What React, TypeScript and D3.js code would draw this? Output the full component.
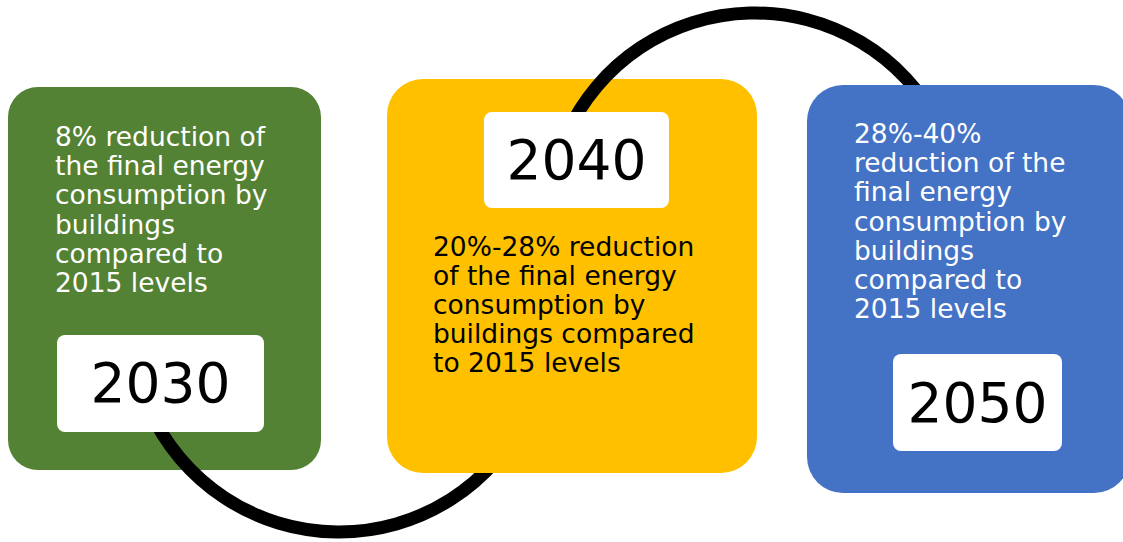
import React from "react";
import * as d3 from "d3";

// ---- content ----
const years = ["2030", "2040", "2050"];
const descriptions: string[][] = [
  ["8% reduction of", "the final energy", "consumption by", "buildings", "compared to", "2015 levels"],
  ["20%-28% reduction", "of the final energy", "consumption by", "buildings compared", "to 2015 levels"],
  ["28%-40%", "reduction of the", "final energy", "consumption by", "buildings", "compared to", "2015 levels"],
];
const boxColors = ["#548235", "#FFC000", "#4472C4"];
const textColors = ["#ffffff", "#000000", "#ffffff"];

// ---- layout ----
const W = 1123;
const H = 542;
const FONT = "'DejaVu Sans', Verdana, sans-serif";

const boxes = [
  { x: 8, y: 87, w: 313, h: 383, r: 30 },
  { x: 387, y: 79, w: 370, h: 394, r: 36 },
  { x: 807, y: 85, w: 323, h: 408, r: 36 },
];
const yearBoxes = [
  { x: 57, y: 335, w: 207, h: 97, r: 8, baseline: 402 },
  { x: 484, y: 112, w: 185, h: 96, r: 8, baseline: 179 },
  { x: 893, y: 354, w: 169, h: 97, r: 8, baseline: 422 },
];
const textBlocks = [
  { x: 55, y0: 146, dy: 29.2 },
  { x: 433, y0: 256, dy: 29 },
  { x: 854, y0: 143, dy: 29.2 },
];

// connector arcs (circle center, radius, angle span in d3 convention)
const arcs = [
  { cx: 339, cy: 324, r: 208, a0: 2.0, a1: 4.3 },
  { cx: 755, cy: 220, r: 207, a0: -1.15, a1: 1.1 },
];
const STROKE = 13;

const arcGen = d3.arc<any>();

function arcPath(a: typeof arcs[number]) {
  return (
    arcGen({
      innerRadius: a.r - STROKE / 2,
      outerRadius: a.r + STROKE / 2,
      startAngle: a.a0,
      endAngle: a.a1,
    }) || ""
  );
}

function Box({ i }: { i: number }) {
  const b = boxes[i];
  return <rect x={b.x} y={b.y} width={b.w} height={b.h} rx={b.r} ry={b.r} fill={boxColors[i]} />;
}

function Arc({ i }: { i: number }) {
  const a = arcs[i];
  return <path d={arcPath(a)} transform={`translate(${a.cx},${a.cy})`} fill="#000" />;
}

function Labels({ i }: { i: number }) {
  const yb = yearBoxes[i];
  const tb = textBlocks[i];
  return (
    <g>
      <rect x={yb.x} y={yb.y} width={yb.w} height={yb.h} rx={yb.r} ry={yb.r} fill="#fff" />
      <text
        x={yb.x + yb.w / 2}
        y={yb.baseline}
        textAnchor="middle"
        fontFamily={FONT}
        fontSize={55}
        fill="#000"
      >
        {years[i]}
      </text>
      <text fontFamily={FONT} fontSize={26.5} fill={textColors[i]}>
        {descriptions[i].map((line, k) => (
          <tspan key={k} x={tb.x} y={tb.y0 + k * tb.dy}>
            {line}
          </tspan>
        ))}
      </text>
    </g>
  );
}

export default function App() {
  return (
    <svg
      width={W}
      height={H}
      viewBox={`0 0 ${W} ${H}`}
      style={{ position: "absolute", left: 0, top: 0, background: "#fff", overflow: "hidden" }}
    >
      <Box i={0} />
      <Arc i={0} />
      <Box i={1} />
      <Arc i={1} />
      <Box i={2} />
      <Labels i={0} />
      <Labels i={1} />
      <Labels i={2} />
    </svg>
  );
}
